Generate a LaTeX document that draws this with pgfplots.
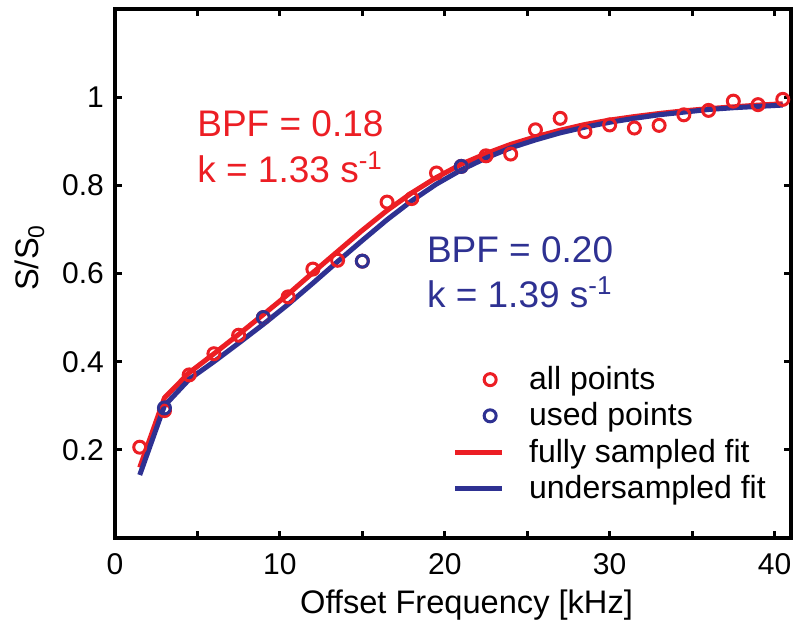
\documentclass[border=0pt]{standalone}
\usepackage{fontspec}
\setmainfont{Liberation Sans}
\usepackage{pgfplots}
\pgfplotsset{compat=1.18}
\definecolor{fitred}{RGB}{236,30,36}
\definecolor{fitblue}{RGB}{46,49,146}

\pgfplotsset{
    markleg/.style={legend image code/.code={%
        \path[draw=none] (0pt,0pt) -- (35pt,0pt);
        \draw[##1] plot coordinates {(17.5pt,0pt)};}},
    lineleg/.style={legend image code/.code={%
        \path[draw=none] (0pt,0pt) -- (35pt,0pt);
        \draw[##1] (0pt,0pt) -- (23.5pt,0pt);}},
}

% offsets 1.5 ... 40.5 kHz
\pgfplotstableread{
x     y
1.5   0.206
3.0   0.289
4.5   0.370
6.0   0.418
7.5   0.460
9.0   0.500
10.5  0.547
12.0  0.610
13.5  0.630
15.0  0.628
16.5  0.762
18.0  0.770
19.5  0.828
21.0  0.843
22.5  0.867
24.0  0.871
25.5  0.926
27.0  0.952
28.5  0.922
30.0  0.937
31.5  0.930
33.0  0.936
34.5  0.960
36.0  0.970
37.5  0.991
39.0  0.983
40.5  0.995
}\allpts
\pgfplotstableread{
x     y
3.0   0.295
9.0   0.500
15.0  0.628
21.0  0.843
}\usedpts
\pgfplotstableread{
x     y
1.5   0.160
3.0   0.318
4.5   0.375
6.0   0.418
7.5   0.462
9.0   0.507
10.5  0.553
12.0  0.602
13.5  0.650
15.0  0.698
16.5  0.743
18.0  0.783
19.5  0.818
21.0  0.848
22.5  0.872
24.0  0.893
25.5  0.910
27.0  0.925
28.5  0.938
30.0  0.948
31.5  0.956
33.0  0.963
34.5  0.969
36.0  0.974
37.5  0.978
39.0  0.982
40.5  0.985
}\fullfit
\pgfplotstableread{
x     y
1.5   0.143
3.0   0.300
4.5   0.360
6.0   0.400
7.5   0.442
9.0   0.485
10.5  0.530
12.0  0.578
13.5  0.627
15.0  0.675
16.5  0.722
18.0  0.765
19.5  0.803
21.0  0.835
22.5  0.862
24.0  0.885
25.5  0.903
27.0  0.919
28.5  0.932
30.0  0.943
31.5  0.952
33.0  0.960
34.5  0.966
36.0  0.972
37.5  0.976
39.0  0.979
40.5  0.982
}\underfit

\begin{document}
\begin{tikzpicture}
\begin{axis}[
    scale only axis,
    width=338pt, height=264.5pt,
    xmin=0, xmax=41, ymin=0, ymax=1.2,
    axis line style={line width=2pt},
    major tick style={line width=1.5pt, black},
    major tick length=3.5pt,
    xtick={0,5,...,40},
    xticklabels={0,,10,,20,,30,,40},
    ytick={0.2,0.4,0.6,0.8,1},
    yticklabels={0.2,0.4,0.6,0.8,1},
    ticklabel style={font=\fontsize{15}{18}\selectfont},
    xticklabel style={yshift=-4pt},
    yticklabel style={xshift=-2pt},
    xlabel={Offset Frequency [kHz]},
    ylabel={S/S\textsubscript{0}},
    label style={font=\fontsize{16.3}{19}\selectfont},
    xlabel style={at={(axis description cs:0.52,-0.127)}, anchor=center},
    ylabel style={at={(axis description cs:-0.126,0.53)}, anchor=center},
    legend style={at={(axis description cs:0.49,0.34)}, anchor=north west,
        draw=none, fill=none, font=\fontsize{16}{18.5}\selectfont,
        row sep=1pt},
    legend cell align=left,
]
\addlegendimage{fitred, line width=1.5pt, mark=o, mark size=3pt, markleg}
\addlegendentry{all points}
\addlegendimage{fitblue, line width=1.5pt, mark=o, mark size=3pt, markleg}
\addlegendentry{used points}
\addlegendimage{fitred, line width=2.5pt, lineleg}
\addlegendentry{fully sampled fit}
\addlegendimage{fitblue, line width=2.5pt, lineleg}
\addlegendentry{undersampled fit}

\addplot[forget plot, only marks, fitred, mark=o, mark size=3pt, line width=1.5pt] table {\allpts};
\addplot[forget plot, fitred, line width=2.5pt] table {\fullfit};
\addplot[forget plot, fitblue, line width=2.5pt] table {\underfit};
\addplot[forget plot, only marks, fitblue, mark=o, mark size=3pt, line width=1.5pt] table {\usedpts};

\node[anchor=base west, text=fitred, font=\fontsize{18.5}{22}\selectfont, inner sep=0pt]
    at (axis cs:4.97,0.911) {BPF = 0.18};
\node[anchor=base west, text=fitred, font=\fontsize{18.5}{22}\selectfont, inner sep=0pt]
    at (axis cs:4.97,0.807) {k = 1.33 s\textsuperscript{-1}};
\node[anchor=base west, text=fitblue, font=\fontsize{18.5}{22}\selectfont, inner sep=0pt]
    at (axis cs:18.9,0.625) {BPF = 0.20};
\node[anchor=base west, text=fitblue, font=\fontsize{18.5}{22}\selectfont, inner sep=0pt]
    at (axis cs:18.9,0.523) {k = 1.39 s\textsuperscript{-1}};
\end{axis}
\pgfresetboundingbox
\useasboundingbox ([xshift=-57.5pt,yshift=-47.5pt]current axis.south west)
    rectangle ([xshift=4.5pt,yshift=4.5pt]current axis.north east);
\end{tikzpicture}
\end{document}
